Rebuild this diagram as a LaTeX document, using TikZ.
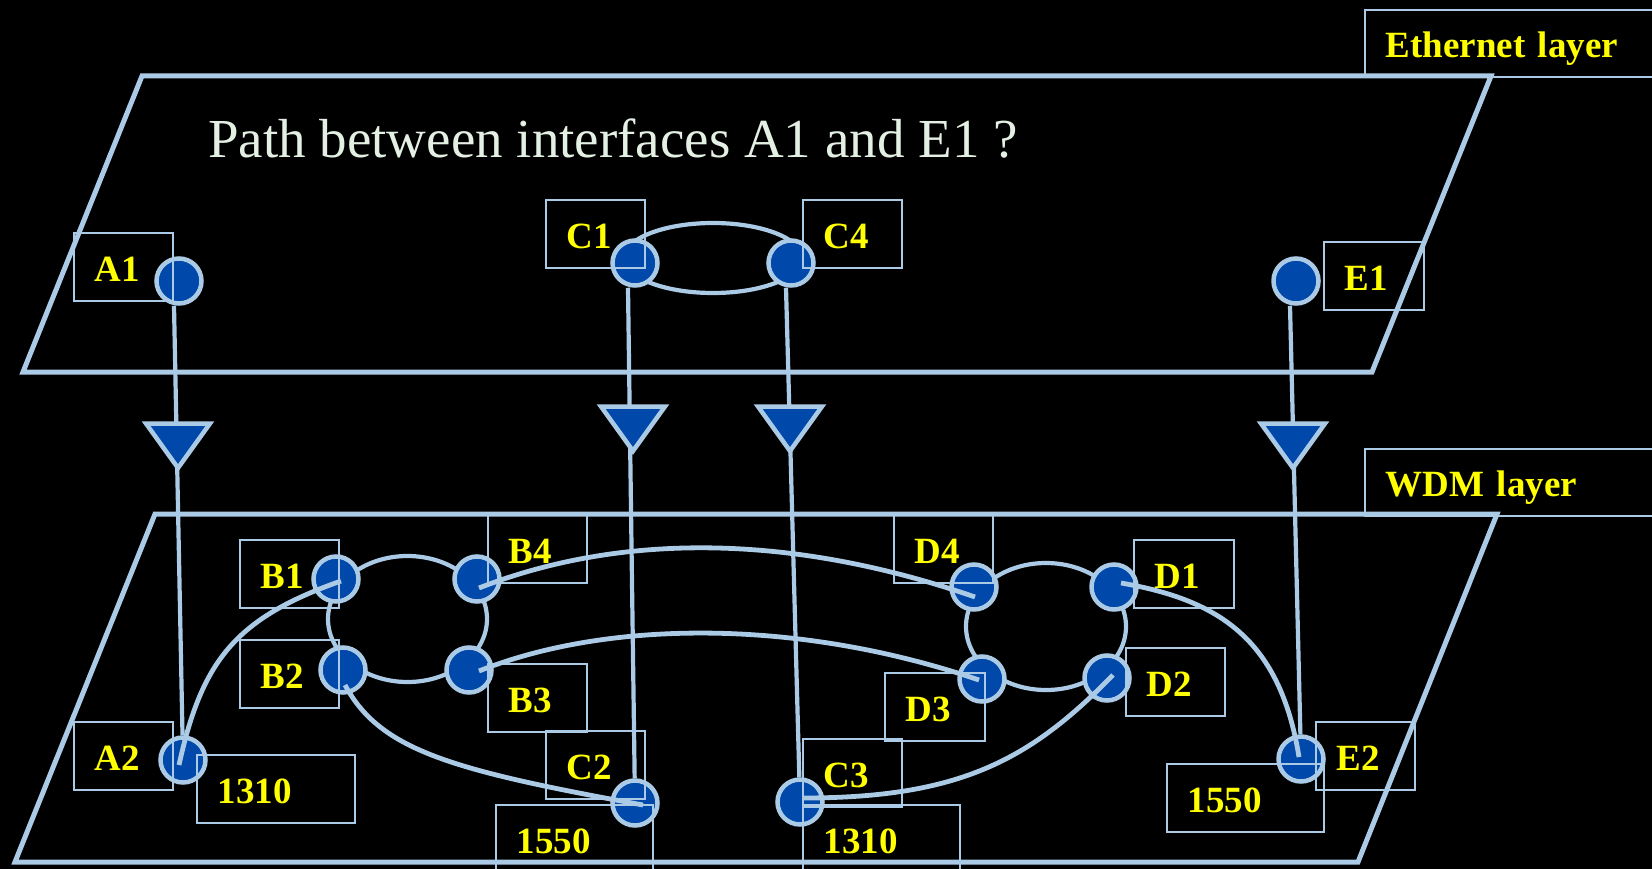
\documentclass[tikz,border=0pt]{standalone}
\usepackage{fontspec}
\setmainfont{Liberation Serif}
\definecolor{lblue}{RGB}{170,202,230}
\definecolor{nblue}{RGB}{0,72,170}
\definecolor{ttl}{RGB}{228,240,228}
\definecolor{ylw}{RGB}{255,255,0}
\begin{document}
\begin{tikzpicture}[x=1pt,y=-1pt,
  plane/.style={draw=lblue,line width=5pt,line join=miter},
  ring/.style={draw=lblue,line width=4.2pt},
  conn/.style={draw=lblue,line width=4.2pt},
  curve/.style={draw=lblue,line width=4.8pt},
  iface/.style={circle,draw=lblue,fill=nblue,line width=4.5pt,minimum size=45pt,inner sep=0pt},
  tri/.style={draw=lblue,fill=nblue,line width=4.5pt,line join=miter},
  lbox/.style={draw=lblue,line width=1.8pt,anchor=north west,inner xsep=21pt,inner ysep=0pt,
    minimum height=68pt,text height=29pt,text depth=0pt,align=left,
    font=\fontsize{37}{40}\selectfont\bfseries,text=ylw},
]
\fill[black] (0,0) rectangle (1652,869);
\useasboundingbox (0,0) rectangle (1652,869);

% layers
\draw[plane] (142,76) -- (1491,76) -- (1372,372) -- (23,372) -- cycle;
\draw[plane] (155,514) -- (1497,514) -- (1358,862) -- (15,862) -- cycle;

% title
\node[anchor=base west,inner sep=0pt,text=ttl,font=\fontsize{55}{60}\selectfont] (title) at (208,158) {Path between interfaces A1 and E1 ?};

% rings
\draw[ring] (713,258) ellipse [x radius=89, y radius=35];
\draw[ring] (407.5,619) ellipse [x radius=79.5, y radius=63];
\draw[ring] (1046,626.5) ellipse [x radius=80, y radius=63.5];

% interfaces
\node[iface] (A1) at (179,281) {};
\node[iface] (C1) at (635,263) {};
\node[iface] (C4) at (791,263) {};
\node[iface] (E1) at (1296,281) {};
\node[iface] (A2) at (183,760) {};
\node[iface] (B1) at (336,579) {};
\node[iface] (B4) at (477,579) {};
\node[iface] (B2) at (343,670) {};
\node[iface] (B3) at (469,670) {};
\node[iface] (C2) at (635,803) {};
\node[iface] (C3) at (800,802) {};
\node[iface] (D4) at (974,587) {};
\node[iface] (D1) at (1114,587) {};
\node[iface] (D3) at (982,679) {};
\node[iface] (D2) at (1107,678) {};
\node[iface] (E2) at (1301,759) {};

% vertical adaptation links
\draw[conn] ([xshift=-5pt]A1.south) -- (A2);
\draw[conn] ([xshift=-7pt]C1.south) -- (C2);
\draw[conn] ([xshift=-5pt]C4.south) -- (C3);
\draw[conn] ([xshift=-6pt]E1.south) -- (E2);

% adaptation triangles
\draw[tri] (146,423.5) -- (210,423.5) -- (178,468) -- cycle;
\draw[tri] (601,406.5) -- (665,406.5) -- (633,451) -- cycle;
\draw[tri] (758,406.5) -- (822,406.5) -- (790,451) -- cycle;
\draw[tri] (1261,423.5) -- (1325,423.5) -- (1293,468) -- cycle;

% WDM links
\draw[curve] ([shift={(-4,5)}]A2.center) .. controls (202,660) and (236,618) .. ([shift={(5,2)}]B1.center);
\draw[curve] ([shift={(2,9)}]B4.center) .. controls (620,533) and (790,533) .. ([shift={(1,10)}]D4.center);
\draw[curve] ([shift={(10,1)}]B3.center) .. controls (610,619) and (800,619) .. ([shift={(-3,1)}]D3.center);
\draw[curve] ([shift={(2,15)}]B2.center) .. controls (380,750) and (450,770) .. ([shift={(8,2)}]C2.center);
\draw[curve] ([shift={(3,-4)}]C3.center) .. controls (960,798) and (1030,760) .. ([shift={(6,-3)}]D2.center);
\draw[curve] ([shift={(7,-4)}]D1.center) .. controls (1220,600) and (1280,640) .. ([shift={(-2,-2)}]E2.center);

% label boxes
\node[lbox,text width=258pt,minimum height=67pt] (lEth) at (1364,9) {Ethernet layer};
\node[lbox,text width=258pt,minimum height=67pt] (lWDM) at (1364,448) {WDM layer};
\node[lbox,text width=57pt] (lA1) at (73,232) {A1};
\node[lbox,text width=57pt] (lC1) at (545,199) {C1};
\node[lbox,text width=57pt] (lC4) at (802,199) {C4};
\node[lbox,text width=58pt] (lE1) at (1323,241) {E1};
\node[lbox,text width=57pt] (lB1) at (239,539) {B1};
\node[lbox,text width=57pt] (lB4) at (487,514) {B4};
\node[lbox,text width=57pt] (lB2) at (239,639) {B2};
\node[lbox,text width=57pt] (lB3) at (487,663) {B3};
\node[lbox,text width=57pt] (lA2) at (73,721) {A2};
\node[lbox,text width=116pt] (lA2w) at (196,754) {1310};
\node[lbox,text width=57pt] (lC2) at (545,730) {C2};
\node[lbox,text width=115pt] (lC2w) at (495,804) {1550};
\node[lbox,text width=57pt] (lC3) at (802,738) {C3};
\node[lbox,text width=115pt] (lC3w) at (802,804) {1310};
\node[lbox,text width=57pt] (lD4) at (893,514) {D4};
\node[lbox,text width=58pt] (lD1) at (1133,539) {D1};
\node[lbox,text width=58pt] (lD3) at (884,672) {D3};
\node[lbox,text width=57pt] (lD2) at (1125,647) {D2};
\node[lbox,text width=57pt] (lE2) at (1315,721) {E2};
\node[lbox,text width=115pt] (lE2w) at (1166,763) {1550};
\end{tikzpicture}
\end{document}
